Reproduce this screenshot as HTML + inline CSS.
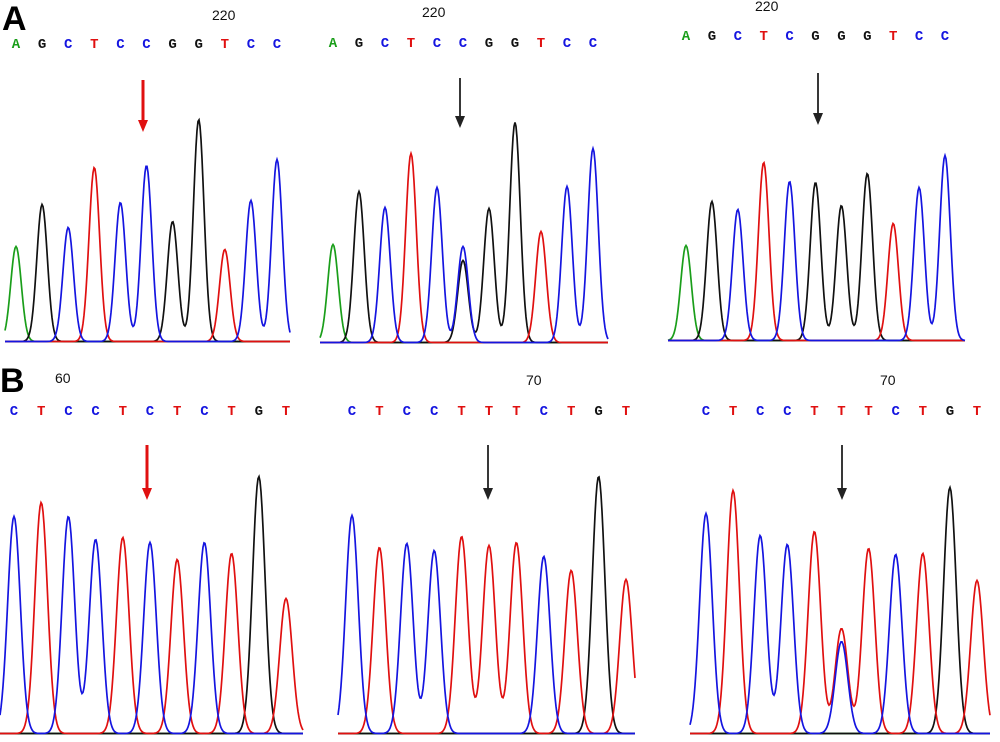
<!DOCTYPE html>
<html><head><meta charset="utf-8">
<style>
html,body{margin:0;padding:0;background:#fff;}
svg{display:block;}
.base{font-family:"Liberation Mono",monospace;font-size:14px;font-weight:bold;}
.num{font-family:"Liberation Sans",sans-serif;font-size:14px;fill:#111;}
.lab{font-family:"Liberation Sans",sans-serif;font-size:34px;font-weight:bold;fill:#000;}
</style></head>
<body>
<svg id="fig" width="1000" height="742" viewBox="0 0 1000 742">
<text class="lab" x="2" y="30">A</text>
<text class="lab" x="0" y="392">B</text>
</svg>
<script>
// ---- data ----
const seqA1 = ["A","G","C","T","C","C","G","G","T","C","C"];
const seqA2 = ["A","G","C","T","C","C","G","G","T","C","C"];
const seqA3 = ["A","G","C","T","C","G","G","G","T","C","C"];
const seqB1 = ["C","T","C","C","T","C","T","C","T","G","T"];
const seqB2 = ["C","T","C","C","T","T","T","C","T","G","T"];
const seqB3 = ["C","T","C","C","T","T","T","C","T","G","T"];
// peak heights (signal units) per base call
const peaksA1 = [95,137,114,174,139,176,120,222,92,141,182];
const peaksA2 = [98,151,135,189,155,96,134,220,111,156,194];
const peaksA3 = [95,139,131,178,159,158,135,167,117,153,185];
const peaksB1 = [217,231,217,194,196,191,174,191,180,257,135];
const peaksB2 = [218,186,190,183,197,188,191,177,163,257,154];
const peaksB3 = [220,243,198,189,202,105,185,179,180,246,153];
// secondary (heterozygous) peaks: [index, base, height]
const extraA2 = [[5,"G",82]];
const extraB3 = [[5,"C",92]];
const posLabels = ["220","220","220","60","70","70"];

const COL = {A:"#1a9e1a",G:"#111111",C:"#1515e0",T:"#e01010"};
const svg = document.getElementById('fig');
const NS = "http://www.w3.org/2000/svg";

const panels = [
 {seq:seqA1,h:peaksA1,ex:[],x0:16,x1:277,xl:5,xr:290,base:343,sig:5.3,ly:48,num:posLabels[0],nx:212,ny:20,ax:143,ay0:80,ay1:132,ac:"#e01010",name:"a1"},
 {seq:seqA2,h:peaksA2,ex:extraA2,x0:333,x1:593,xl:320,xr:608,base:344,sig:5.3,ly:47,num:posLabels[1],nx:422,ny:17,ax:460,ay0:78,ay1:128,ac:"#222",name:"a2"},
 {seq:seqA3,h:peaksA3,ex:[],x0:686,x1:945,xl:668,xr:965,base:342,sig:5.3,ly:40,num:posLabels[2],nx:755,ny:11,ax:818,ay0:73,ay1:125,ac:"#222",name:"a3"},
 {seq:seqB1,h:peaksB1,ex:[],x0:14,x1:286,xl:0,xr:303,base:735,sig:6.3,ly:415,num:posLabels[3],nx:55,ny:383,ax:147,ay0:445,ay1:500,ac:"#e01010",name:"b1"},
 {seq:seqB2,h:peaksB2,ex:[],x0:352,x1:626,xl:338,xr:635,base:735,sig:6.3,ly:415,num:posLabels[4],nx:526,ny:385,ax:488,ay0:445,ay1:500,ac:"#222",name:"b2"},
 {seq:seqB3,h:peaksB3,ex:extraB3,x0:706,x1:977,xl:690,xr:990,base:735,sig:6.3,ly:415,num:posLabels[5],nx:880,ny:385,ax:842,ay0:445,ay1:500,ac:"#222",name:"b3"}
];

panels.forEach(p=>{
  const n=p.seq.length;
  const xs=i=>p.x0+(p.x1-p.x0)*i/(n-1);
  const ys=v=>p.base-v;
  const g=document.createElementNS(NS,'g');
  
  
  svg.appendChild(g);
  const t=document.createElementNS(NS,'text');
  t.setAttribute('class','num');t.setAttribute('x',p.nx);t.setAttribute('y',p.ny);
  t.textContent=p.num;
  
  
  g.appendChild(t);
  p.seq.forEach((b,i)=>{
    const l=document.createElementNS(NS,'text');
    l.setAttribute('class','base');l.setAttribute('x',xs(i));l.setAttribute('y',p.ly);
    l.setAttribute('text-anchor','middle');l.setAttribute('fill',COL[b]);
    l.textContent=b;
    
    
    g.appendChild(l);
  });
  const peaks=p.seq.map((b,i)=>[i,b,p.h[i]]).concat(p.ex);
  ["A","G","T","C"].forEach(ch=>{
    const mine=peaks.filter(q=>q[1]===ch);
    let pts=[];
    for(let x=p.xl;x<=p.xr;x+=1){
      let v=1.5;
      mine.forEach(q=>{const d=(x-xs(q[0]))/p.sig;v+=q[2]*Math.exp(-0.5*d*d);});
      pts.push(x+','+ys(v).toFixed(1));
    }
    const pl=document.createElementNS(NS,'polyline');
    pl.setAttribute('points',pts.join(' '));
    pl.setAttribute('fill','none');pl.setAttribute('stroke',COL[ch]);pl.setAttribute('stroke-width','1.7');
    
    
    g.appendChild(pl);
  });
  const a=document.createElementNS(NS,'line');
  a.setAttribute('x1',p.ax);a.setAttribute('x2',p.ax);a.setAttribute('y1',p.ay0);a.setAttribute('y2',p.ay1-8);
  a.setAttribute('stroke',p.ac);a.setAttribute('stroke-width',p.ac==="#e01010"?3:1.8);
  
  
  g.appendChild(a);
  const h=document.createElementNS(NS,'polygon');
  h.setAttribute('points',(p.ax-5)+','+(p.ay1-12)+' '+(p.ax+5)+','+(p.ay1-12)+' '+p.ax+','+p.ay1);
  h.setAttribute('fill',p.ac);
  
  
  g.appendChild(h);
});
</script>
</body></html>
